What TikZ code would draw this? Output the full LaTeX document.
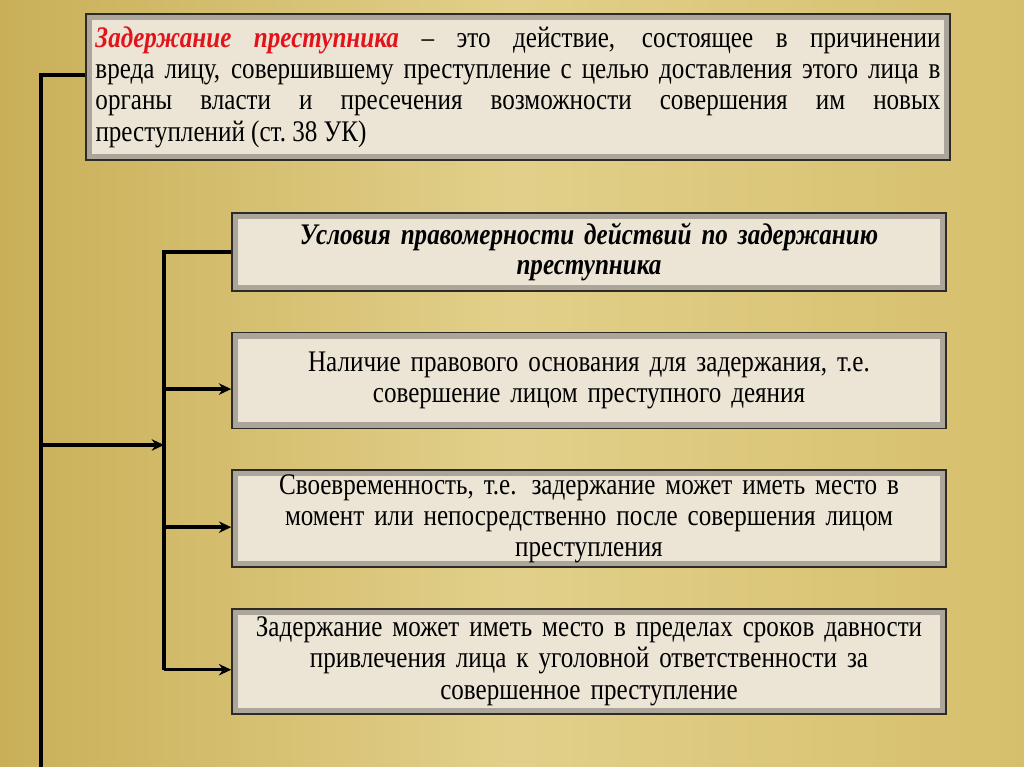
\documentclass[tikz,border=0pt]{standalone}
\usepackage{fontspec}
\setmainfont{Liberation Serif}[FakeStretch=0.84]
\usetikzlibrary{positioning, arrows.meta}

\definecolor{goldL}{HTML}{C9AF58}
\definecolor{goldM}{HTML}{E2D08A}
\definecolor{goldR}{HTML}{D6BF6C}
\definecolor{linen}{HTML}{ECE5D5}
\definecolor{bevel}{HTML}{ABA59A}
\definecolor{edge}{HTML}{2E2B26}
\definecolor{termred}{HTML}{E2141B}

\begin{document}
\begin{tikzpicture}[node distance=.8cm, >={Stealth[length=7pt, width=6.5pt]},
    box/.style={draw=edge, line width=.9pt, fill=linen, rectangle, minimum width=14.28cm, inner sep=0pt,
        font=\fontsize{17}{17.8}\selectfont, text width=13.6cm, align=center,
        path picture={\draw[bevel, line width=7pt] (path picture bounding box.south west) rectangle (path picture bounding box.north east);}},
    conn/.style={line width=2pt}]

    % Background
    \useasboundingbox (0,0) rectangle (20.48,-15.34);
    \shade[left color=goldL, right color=goldR, middle color=goldM] (0,0) rectangle (20.48,-15.34);

    % Definition box
    \node[box, minimum width=17.28cm, minimum height=2.92cm, text width=16.9cm, align=justify] (defn) at (10.36,-1.74)
        {{\color{termred}\bfseries\itshape Задержание преступника} – это действие, состоящее в причинении\linebreak
        вреда лицу, совершившему преступление с целью доставления этого лица в\linebreak
        органы власти и пресечения возможности совершения им новых\linebreak
        преступлений (ст.~38 УК)};

    % Conditions column
    \node[box, minimum height=1.56cm, font=\fontsize{17}{17.2}\selectfont\bfseries\itshape] (cond) at (11.78,-5.04)
        {Условия правомерности действий по задержанию\\ преступника};
    \node[box, minimum height=1.92cm] (basis) [below=of cond]
        {Наличие правового основания для задержания, т.е.\\ совершение лицом преступного деяния};
    \node[box, minimum height=1.94cm] (timely) [below=of basis]
        {Своевременность, т.е. задержание может иметь место в\\ момент или непосредственно после совершения лицом\\ преступления};
    \node[box, minimum height=2.1cm] (limit) [below=of timely]
        {Задержание может иметь место в пределах сроков давности\\ привлечения лица к уголовной ответственности за\\ совершенное преступление};

    % Outer line
    \coordinate (outtop) at (0.82,-1.5);
    \coordinate (outbot) at (0.82,-15.4);
    \coordinate (inx) at (3.28,0);
    \coordinate (branch) at (0.82,-8.9);
    \draw[conn] (defn.west |- outtop) -- (outtop) -- (outbot);
    \draw[conn, ->] (branch) -- (branch -| inx);

    % Inner line and arrows
    \foreach \n in {basis, timely, limit} {
        \coordinate (\n-in) at ([yshift=-1.7mm]\n.west);
        \draw[conn, ->] (\n-in -| inx) -- (\n-in);
    }
    \draw[conn] (cond.west) -- (cond.west -| inx) -- (limit-in -| inx);

\end{tikzpicture}
\end{document}
